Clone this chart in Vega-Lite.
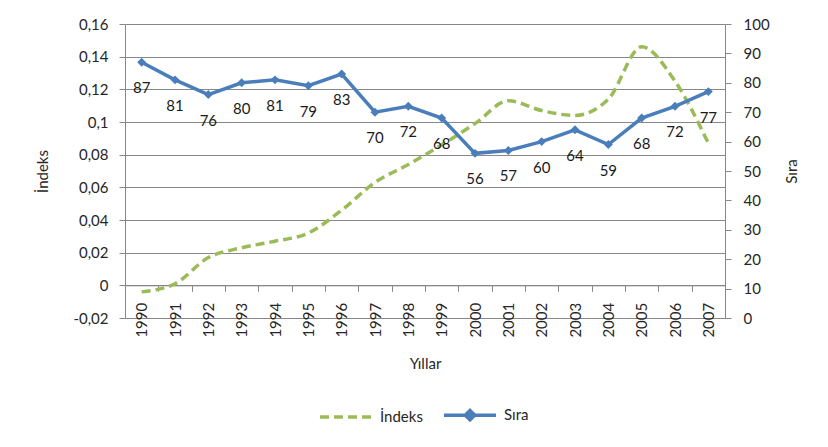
{
  "$schema": "https://vega.github.io/schema/vega-lite/v6.json",
  "width": 600,
  "height": 294,
  "autosize": {"type": "none"},
  "padding": {"left": 125, "top": 24, "right": 103, "bottom": 129},
  "background": "white",
  "config": {
    "view": {"stroke": null},
    "font": "Lato",
    "axis": {
      "domainColor": "#878787",
      "tickColor": "#878787",
      "gridColor": "#878787",
      "labelFont": "Lato",
      "labelFontSize": 15,
      "labelColor": "#262626",
      "titleFont": "Lato",
      "titleFontSize": 15,
      "titleFontWeight": "normal",
      "titleColor": "#262626",
      "tickSize": 6
    }
  },
  "data": {
    "values": [
      {"year": "1990", "indeks": -0.004, "sira": 87},
      {"year": "1991", "indeks": 0.001, "sira": 81},
      {"year": "1992", "indeks": 0.017, "sira": 76},
      {"year": "1993", "indeks": 0.023, "sira": 80},
      {"year": "1994", "indeks": 0.027, "sira": 81},
      {"year": "1995", "indeks": 0.032, "sira": 79},
      {"year": "1996", "indeks": 0.046, "sira": 83},
      {"year": "1997", "indeks": 0.063, "sira": 70},
      {"year": "1998", "indeks": 0.074, "sira": 72},
      {"year": "1999", "indeks": 0.086, "sira": 68},
      {"year": "2000", "indeks": 0.099, "sira": 56},
      {"year": "2001", "indeks": 0.113, "sira": 57},
      {"year": "2002", "indeks": 0.107, "sira": 60},
      {"year": "2003", "indeks": 0.104, "sira": 64},
      {"year": "2004", "indeks": 0.114, "sira": 59},
      {"year": "2005", "indeks": 0.146, "sira": 68},
      {"year": "2006", "indeks": 0.125, "sira": 72},
      {"year": "2007", "indeks": 0.087, "sira": 77}
    ]
  },
  "encoding": {
    "x": {
      "field": "year",
      "type": "ordinal",
      "scale": {"paddingInner": 0, "paddingOuter": 0},
      "axis": {
        "title": "Yıllar",
        "labelAngle": -90,
        "tickBand": "extent",
        "offset": -32.7,
        "labelPadding": 11,
        "titlePadding": 19,
        "grid": false
      }
    }
  },
  "layer": [
    {
      "mark": {"type": "line", "strokeWidth": 3.5, "strokeDash": [9, 5], "interpolate": "monotone"},
      "encoding": {
        "y": {
          "field": "indeks",
          "type": "quantitative",
          "scale": {"domain": [-0.02, 0.16], "nice": false, "zero": false},
          "axis": {
            "title": "İndeks",
            "values": [-0.02, 0, 0.02, 0.04, 0.06, 0.08, 0.1, 0.12, 0.14, 0.16],
            "labelExpr": "replace(replace(format(datum.value, '.2~f'), '.', ','), '−', '-')",
            "grid": true,
            "labelPadding": 11,
            "titlePadding": 22
          }
        },
        "color": {
          "datum": "İndeks",
          "type": "nominal",
          "scale": {"domain": ["İndeks", "Sıra"], "range": ["#9BBB59", "#4A7EBB"]},
          "legend": {
            "orient": "none",
            "legendX": 193,
            "legendY": 363,
            "direction": "horizontal",
            "title": null,
            "symbolType": "stroke",
            "symbolSize": 2704,
            "symbolStrokeWidth": 3.5,
            "labelFont": "Lato",
            "labelFontSize": 15,
            "labelColor": "#262626",
            "columnPadding": 14,
            "labelOffset": 6,
            "encode": {
              "symbols": {
                "update": {
                  "shape": {"signal": "datum.value === 'Sıra' ? 'M-1,0H1M-0.18,0L0,-0.18L0.18,0L0,0.18Z' : 'stroke'"},
                  "strokeDash": {"signal": "datum.value === 'İndeks' ? [9, 5] : [1, 0]"},
                  "fill": {"signal": "datum.value === 'Sıra' ? '#4A7EBB' : 'transparent'"}
                }
              }
            }
          }
        }
      }
    },
    {
      "encoding": {
        "y": {
          "field": "sira",
          "type": "quantitative",
          "scale": {"domain": [0, 100], "nice": false},
          "axis": {
            "title": "Sıra",
            "orient": "right",
            "values": [0, 10, 20, 30, 40, 50, 60, 70, 80, 90, 100],
            "grid": false,
            "labelPadding": 12,
            "titlePadding": 30,
            "titleAngle": 270
          }
        }
      },
      "layer": [
        {
          "mark": {"type": "line", "strokeWidth": 3.5, "point": {"shape": "diamond", "size": 80, "filled": true, "color": "#4A7EBB"}},
          "encoding": {
            "color": {"datum": "Sıra", "type": "nominal"}
          }
        },
        {
          "mark": {"type": "text", "dy": 26, "fontSize": 15, "font": "Lato", "color": "#1a1a1a"},
          "encoding": {
            "text": {"field": "sira", "type": "quantitative"}
          }
        }
      ]
    }
  ],
  "resolve": {"scale": {"y": "independent"}}
}
